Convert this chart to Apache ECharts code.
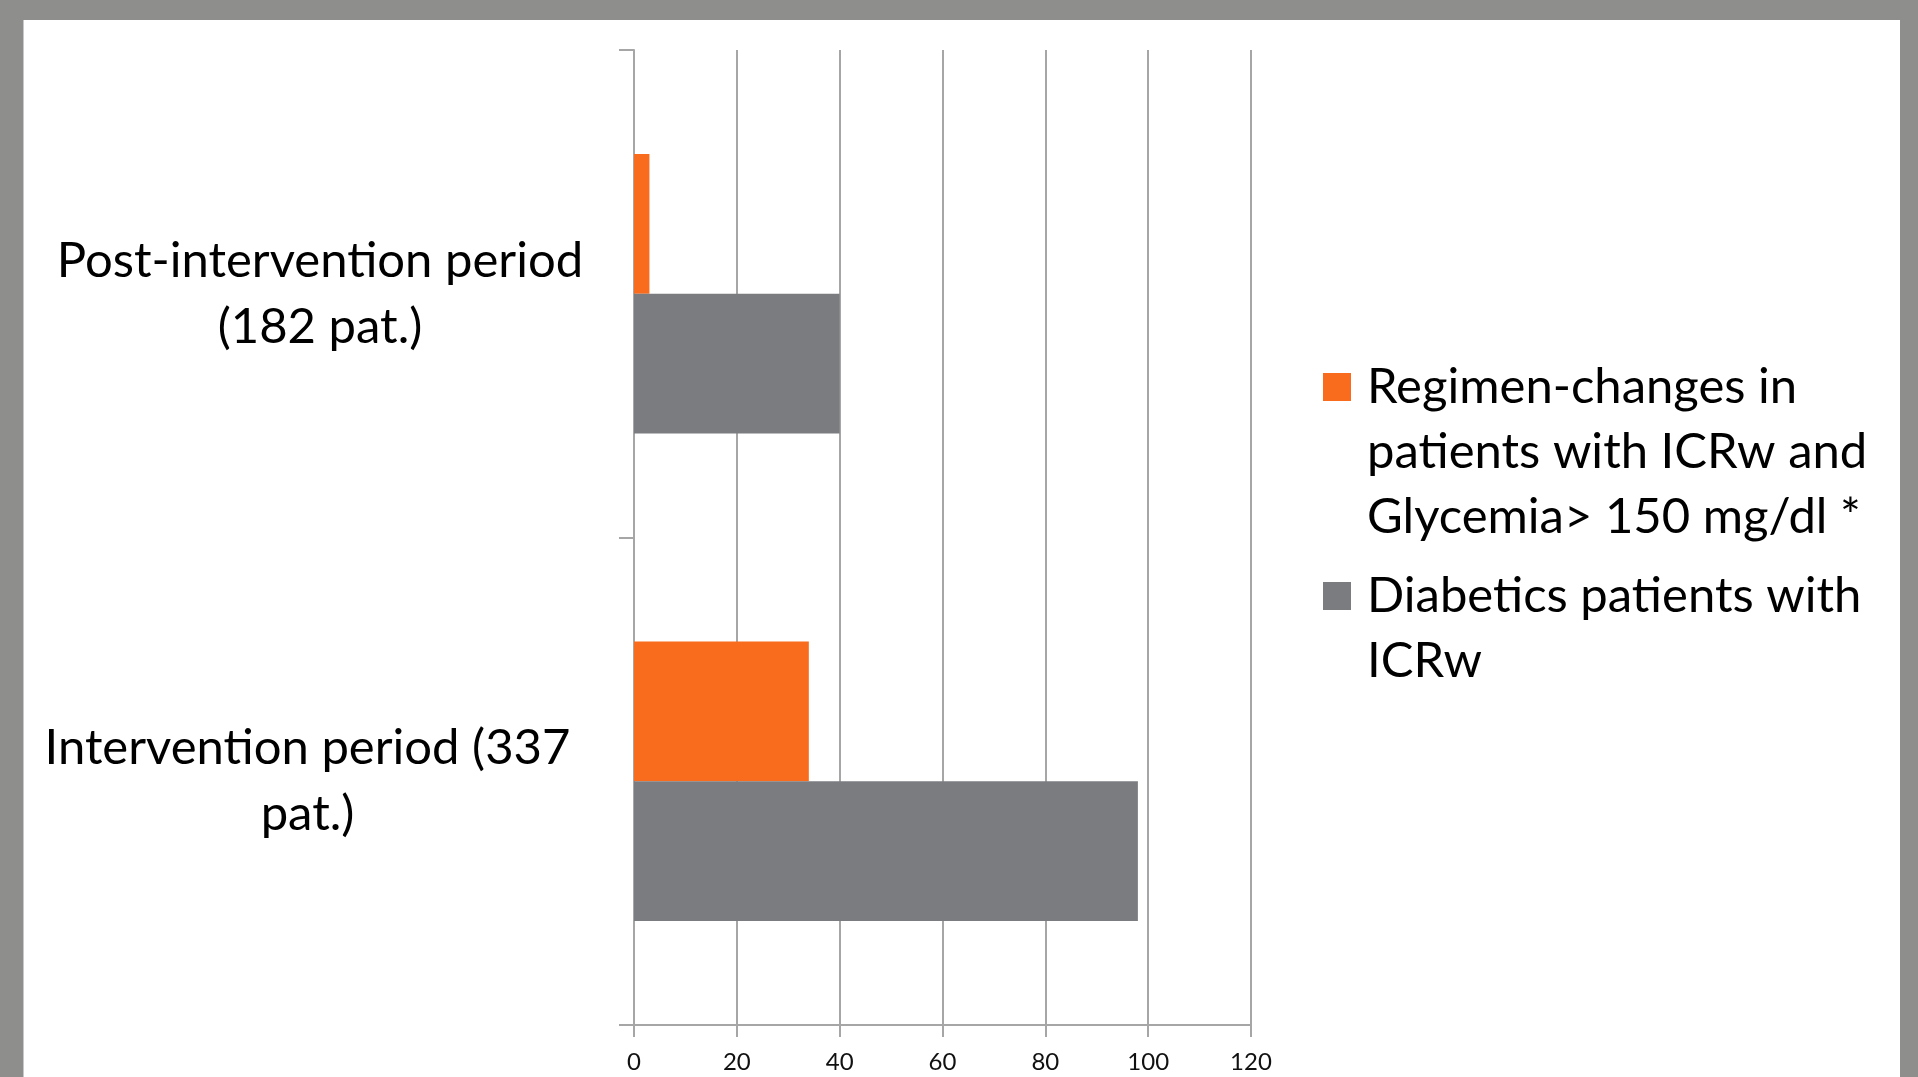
<!DOCTYPE html>
<html>
<head>
<meta charset="utf-8">
<script src="https://cdn.jsdelivr.net/npm/echarts@6/dist/echarts.min.js"></script>
<style>
    html, body { margin: 0; padding: 0; }
    body { width: 1918px; height: 1077px; background: #8e8e8c; position: relative; overflow: hidden; }
    #chart { position: absolute; left: 23px; top: 20px; width: 1877px; height: 1057px; background: #fff; border-left: 1px solid #c8c8c8; box-sizing: border-box; }
</style>
</head>
<body>
<div id="chart"></div>
<script>
    // categories bottom -> top
    let categories = ['Intervention period (337\npat.)', 'Post-intervention period\n(182 pat.)'];
    let regimenChanges = [34, 3];
    let diabeticsICRw = [98, 40];
    let seriesNames = ['Regimen-changes in\npatients with ICRw and\nGlycemia> 150 mg/dl *', 'Diabetics patients with\nICRw'];

    let font = 'Lato';
    let myChart = echarts.init(document.getElementById('chart'));

    let option = {
        animation: false,
        grid: { left: 610, right: 649, top: 30, bottom: 52, containLabel: false },
        legend: {
            orient: 'vertical',
            left: 1299,
            top: 204.5,
            padding: 0,
            itemGap: -51,
            itemWidth: 28,
            itemHeight: 28,
            icon: 'rect',
            selectedMode: false,
            textStyle: { fontFamily: font, fontSize: 49, lineHeight: 65, color: '#000', padding: [0, 0, 0, 11] },
            // blank lines above so the icon sits next to the first line
            formatter: function (name) {
                let n = name.split('\n').length;
                return '\n'.repeat(n - 1) + name;
            },
            data: seriesNames
        },
        xAxis: {
            type: 'value',
            min: 0,
            max: 120,
            interval: 20,
            axisLine: { show: true, lineStyle: { color: '#a6a6a6', width: 2 } },
            axisTick: { show: true, length: 12, lineStyle: { color: '#a6a6a6', width: 2 } },
            splitLine: { show: true, lineStyle: { color: '#a6a6a6', width: 2 } },
            axisLabel: { fontFamily: font, fontSize: 24, color: '#111', margin: 25 }
        },
        yAxis: {
            type: 'category',
            data: categories,
            boundaryGap: true,
            axisLine: { show: true, lineStyle: { color: '#a6a6a6', width: 2 } },
            axisTick: { show: true, length: 15, lineStyle: { color: '#a6a6a6', width: 2 } },
            axisLabel: {
                margin: 314,
                align: 'center',
                interval: 0,
                formatter: function (v) {
                    let key = v === categories[0] ? 'i' : 'p';
                    return v.split('\n').map(function (s) { return '{' + key + '|' + s + '}'; }).join('\n');
                },
                rich: {
                    p: { fontFamily: font, fontSize: 49, lineHeight: 66, color: '#000' },
                    i: { fontFamily: font, fontSize: 49, lineHeight: 66, color: '#000', padding: [0, 25, 0, 0] }
                }
            }
        },
        series: [
            {
                name: seriesNames[0],
                type: 'bar',
                data: regimenChanges,
                barGap: 0,
                barCategoryGap: '42.7%',
                itemStyle: { color: '#f96b1d' }
            },
            {
                name: seriesNames[1],
                type: 'bar',
                data: diabeticsICRw,
                barGap: 0,
                barCategoryGap: '42.7%',
                itemStyle: { color: '#7b7c80' }
            }
        ]
    };
    myChart.setOption(option);
</script>
</body>
</html>
